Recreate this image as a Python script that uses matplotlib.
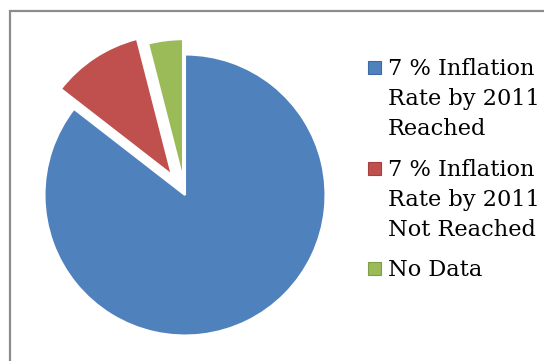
import matplotlib.pyplot as plt
from matplotlib.patches import Rectangle

labels = ["7 % Inflation\nRate by 2011\nReached",
          "7 % Inflation\nRate by 2011\nNot Reached",
          "No Data"]
shares = [85.5, 10.5, 4.0]
colors = ["#4F81BD", "#C0504D", "#9BBB59"]
edges = ["#3A6BA5", "#A5403D", "#7F9E45"]
explode = [0.0, 0.17, 0.11]

W, H = 544, 361
fig = plt.figure(figsize=(W / 100, H / 100), dpi=100)

# pie axes in pixel terms: centre (185, 195), radius 140.5 px
cx, cy, r = 185, 195, 140.5
half = 160
ax = fig.add_axes([(cx - half) / W, (H - cy - half) / H, 2 * half / W, 2 * half / H])
ax.pie(shares, colors=colors, explode=explode, startangle=90, counterclock=False,
       wedgeprops=dict(edgecolor="white", linewidth=1.5))
ax.set_xlim(-half / r, half / r)
ax.set_ylim(-half / r, half / r)
ax.set_aspect("auto")
ax.axis("off")

# outer chart frame (runs off right and bottom)
fig.patches.append(Rectangle((10 / W, -0.2), 2.0, 1.2 - 11 / H, transform=fig.transFigure,
                             fill=False, edgecolor="#8C8C8C", linewidth=1.6))

# legend drawn by hand so the key sits at the first line
font = dict(family="DejaVu Serif", size=16.2, color="#000000")
baselines = [75, 176, 276]
for lab, col, ec, yb in zip(labels, colors, edges, baselines):
    fig.patches.append(Rectangle((368 / W, (H - yb + 1) / H), 13 / W, 13 / H,
                                 transform=fig.transFigure, facecolor=col,
                                 edgecolor=ec, linewidth=0.8))
    for i, line in enumerate(lab.split("\n")):
        fig.text(388 / W, (H - yb - i * 30) / H, line, ha="left", va="baseline", **font)

fig.savefig("out.png", dpi=100)
